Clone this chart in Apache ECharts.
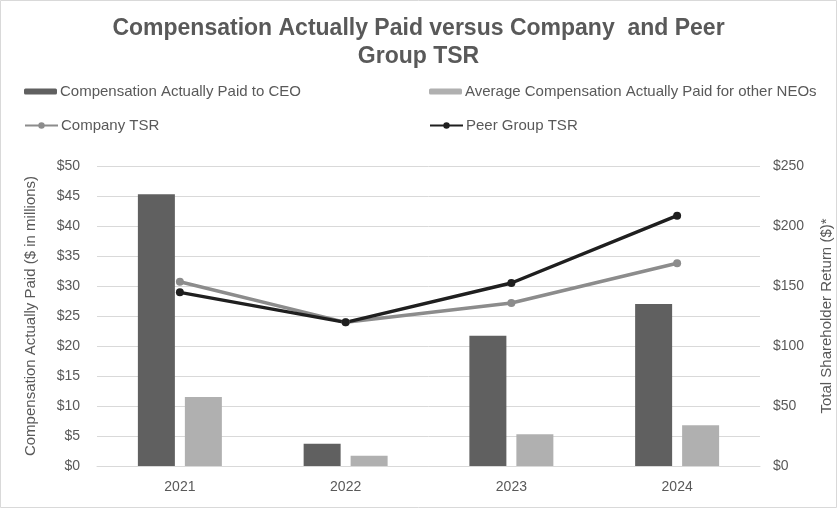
<!DOCTYPE html>
<html>
<head>
<meta charset="utf-8">
<script src="https://cdn.jsdelivr.net/npm/echarts@6/dist/echarts.min.js"></script>
<style>html,body{margin:0;padding:0;background:#fff;}#c{width:837px;height:508px;}</style>
</head>
<body>
<div id="c"></div>
<script>
var categories = ['2021', '2022', '2023', '2024'];
var ceoPay = [45.3, 3.7, 21.7, 27.0];
var neoPay = [11.5, 1.7, 5.3, 6.8];
var companyTSR = [153.6, 119.7, 135.8, 169.0];
var peerTSR = [144.7, 119.7, 152.5, 208.6];
var leftTicks = {min: 0, max: 50, interval: 5};
var rightTicks = {min: 0, max: 250, interval: 50};

var FONT = "'Liberation Sans', Arial, sans-serif";
var TXT = '#595959';
var chart = echarts.init(document.getElementById('c'), null, {renderer: 'canvas'});
function leg(name, left, top, h) {
  return {
    data: [name], left: left, top: top, orient: 'horizontal',
    itemWidth: 33, itemHeight: h, itemGap: 4, padding: 0,
    textStyle: {color: TXT, fontSize: 15, fontFamily: FONT, padding: [0, 0, 0, -2]},
    selectedMode: false
  };
}
chart.setOption({
  backgroundColor: '#ffffff',
  animation: false,
  textStyle: {fontFamily: FONT},
  title: {
    text: 'Compensation Actually Paid versus Company  and Peer\nGroup TSR',
    left: 'center', top: 10,
    textStyle: {color: TXT, fontSize: 23, fontWeight: 'bold', fontFamily: FONT, lineHeight: 28}
  },
  graphic: [{
    type: 'rect', shape: {x: 0.5, y: 0.5, width: 836, height: 507},
    style: {fill: 'none', stroke: '#d9d9d9', lineWidth: 1}, silent: true
  }],
  legend: [
    leg('Compensation Actually Paid to CEO', 24, 84, 6),
    leg('Average Compensation Actually Paid for other NEOs', 429, 84, 6),
    leg('Company TSR', 24, 118, 8),
    leg('Peer Group TSR', 429, 118, 8)
  ],
  grid: {left: 97, right: 77, top: 166, bottom: 42, outerBoundsMode: 'none', containLabel: false},
  xAxis: {
    type: 'category', data: categories,
    axisLine: {lineStyle: {color: '#d9d9d9'}},
    axisTick: {show: false},
    axisLabel: {color: TXT, fontSize: 14, fontFamily: FONT, margin: 14}
  },
  yAxis: [{
    type: 'value', min: leftTicks.min, max: leftTicks.max, interval: leftTicks.interval,
    name: 'Compensation Actually Paid ($ in millions)',
    nameLocation: 'middle', nameGap: 59, nameRotate: 90,
    nameTextStyle: {color: TXT, fontSize: 15, fontFamily: FONT},
    axisLine: {show: false}, axisTick: {show: false},
    axisLabel: {color: TXT, fontSize: 14, fontFamily: FONT, margin: 17, formatter: '${value}'},
    splitLine: {lineStyle: {color: '#d9d9d9'}}
  }, {
    type: 'value', min: rightTicks.min, max: rightTicks.max, interval: rightTicks.interval,
    name: 'Total Shareholder Return ($)*',
    nameLocation: 'middle', nameGap: 59, nameRotate: 90,
    nameTextStyle: {color: TXT, fontSize: 15, fontFamily: FONT},
    axisLine: {show: false}, axisTick: {show: false},
    axisLabel: {color: TXT, fontSize: 14, fontFamily: FONT, margin: 13, formatter: '${value}'},
    splitLine: {show: false}
  }],
  series: [{
    name: 'Compensation Actually Paid to CEO', type: 'bar', data: ceoPay,
    barWidth: 37, barGap: '27%', itemStyle: {color: '#606060'}
  }, {
    name: 'Average Compensation Actually Paid for other NEOs', type: 'bar', data: neoPay,
    barWidth: 37, itemStyle: {color: '#b0b0b0'}
  }, {
    name: 'Company TSR', type: 'line', yAxisIndex: 1, data: companyTSR,
    symbol: 'circle', symbolSize: 8,
    lineStyle: {color: '#8c8c8c', width: 3.5}, itemStyle: {color: '#8c8c8c'}
  }, {
    name: 'Peer Group TSR', type: 'line', yAxisIndex: 1, data: peerTSR,
    symbol: 'circle', symbolSize: 8,
    lineStyle: {color: '#1f1f1f', width: 3.5}, itemStyle: {color: '#1f1f1f'}
  }]
});
</script>
</body>
</html>
